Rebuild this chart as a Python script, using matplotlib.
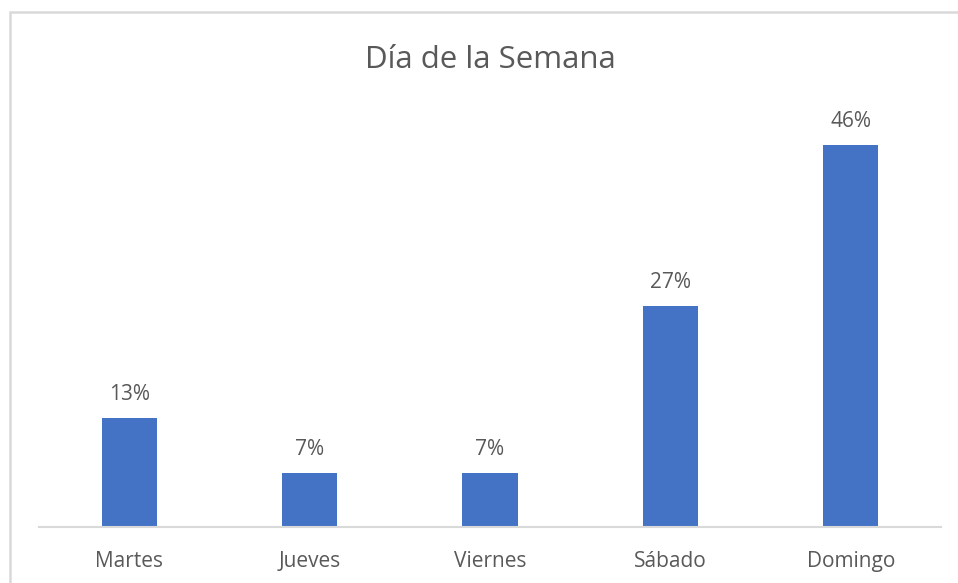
import matplotlib.pyplot as plt
from matplotlib.patches import Rectangle

dias = ['Martes', 'Jueves', 'Viernes', 'Sábado', 'Domingo']
porcentajes = [13.1, 6.5, 6.5, 26.6, 46]
etiquetas = ['13%', '7%', '7%', '27%', '46%']

plt.rcParams['font.family'] = ['Open Sans', 'DejaVu Sans']
texto = '#595959'

fig = plt.figure(figsize=(9.58, 5.83), dpi=100)
ax = fig.add_axes([39 / 958, 56 / 583, 902 / 958, 415 / 583])

x = range(len(dias))
ax.bar(x, porcentajes, width=0.305, color='#4472C4', zorder=2)
for i, (v, t) in enumerate(zip(porcentajes, etiquetas)):
    ax.annotate(t, (i, v), xytext=(0, 9.5), textcoords='offset points',
                ha='center', va='bottom', fontsize=15, color=texto)

ax.set_xlim(-0.5, len(dias) - 0.5)
ax.set_ylim(0, 50)
ax.set_xticks(list(x))
ax.set_xticklabels(dias, fontsize=15, color=texto)
ax.tick_params(axis='x', length=0, pad=17.5)
ax.set_yticks([])
for s in ['top', 'left', 'right']:
    ax.spines[s].set_visible(False)
ax.spines['bottom'].set_color('#D9D9D9')
ax.spines['bottom'].set_linewidth(1.5)

fig.text(490 / 958, 1 - 60 / 583, 'Día de la Semana', ha='center', va='center',
         fontsize=22.5, color=texto)

# marco del gráfico
fig.patches.append(Rectangle((9.5 / 958, -0.05), 1.0, 1 - 12.5 / 583 + 0.05,
                             transform=fig.transFigure, fill=False,
                             edgecolor='#D9D9D9', linewidth=1.8))

fig.savefig('out.png', dpi=100)
